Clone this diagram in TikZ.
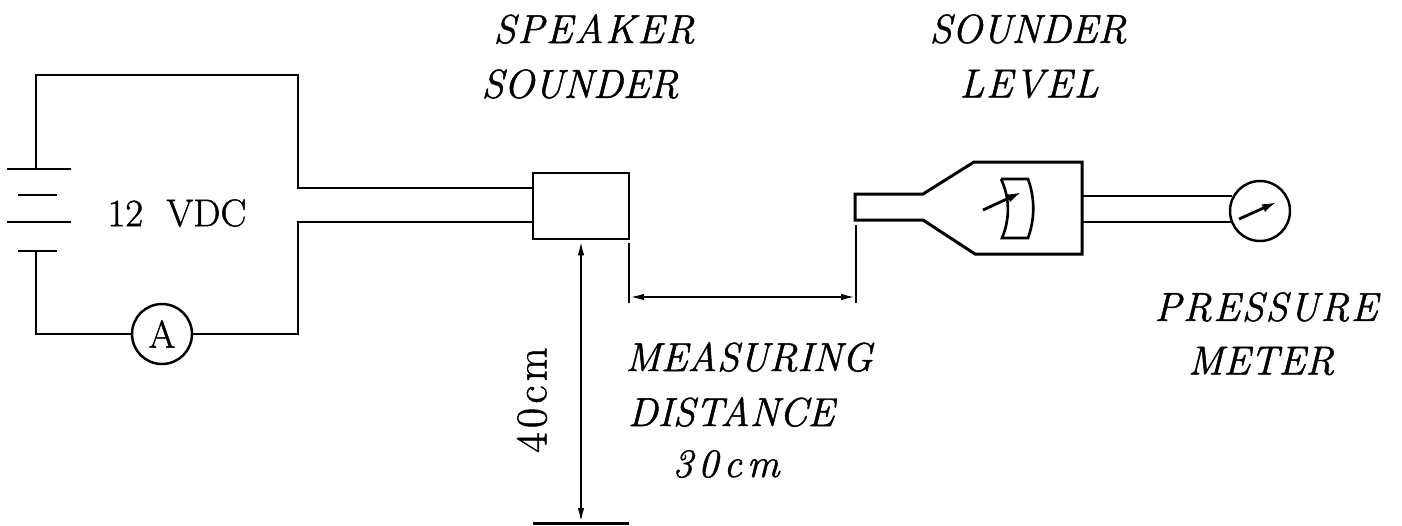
\documentclass[tikz,border=0pt]{standalone}
\usepackage{fontspec}
\usetikzlibrary{arrows.meta, positioning}
\newfontfamily\capfont[FakeBold=1.2]{Latin Modern Roman}
\newfontfamily\widefont[LetterSpace=4,FakeBold=1.2]{Latin Modern Roman}
\newfontfamily\numfont[LetterSpace=13,FakeBold=1.2]{Latin Modern Roman}
\newfontfamily\plainfont[FakeBold=1.2]{Latin Modern Roman}
\newfontfamily\sidefont[LetterSpace=10,FakeBold=1.2]{Latin Modern Roman}
\tikzset{
  wire/.style={line width=1.5pt},
  heavy/.style={line width=1.7pt},
  device/.style={draw, line width=1.5pt, inner sep=0pt},
  dial/.style={draw, circle, line width=1.4pt, minimum size=1.2cm, inner sep=0pt},
  pointer/.style={line width=1.6pt, -{Latex[length=0.3cm,width=0.17cm]}},
  dimline/.style={line width=1.3pt, {Latex[length=0.3cm,width=0.13cm]}-{Latex[length=0.3cm,width=0.13cm]}},
  caption/.style={inner sep=0pt, font=\capfont\fontsize{23}{27}\selectfont\itshape},
  widecaption/.style={inner sep=0pt, font=\widefont\fontsize{23}{27}\selectfont\itshape},
  numcaption/.style={inner sep=0pt, font=\numfont\fontsize{23}{27}\selectfont\itshape},
  upright/.style={inner sep=0pt, font=\plainfont\fontsize{22}{26}\selectfont},
  sideways/.style={inner sep=0pt, rotate=90, font=\sidefont\fontsize{25}{30}\selectfont}
}
\begin{document}
\begin{tikzpicture}[x=0.02cm, y=-0.02cm]
  \useasboundingbox (0,0) rectangle (1402,525);

  \coordinate (plus) at (36,169);
  \coordinate (minus) at (36,251);
  \coordinate (topleft) at (36,75);
  \coordinate (topright) at (298,75);
  \coordinate (topbend) at (298,188);
  \coordinate (botleft) at (36,334);
  \coordinate (botright) at (298,334);
  \coordinate (botbend) at (298,222);
  \coordinate (spkupper) at (533,188);
  \coordinate (spklower) at (533,222);

  \node[device, minimum width=1.92cm, minimum height=1.32cm] (speaker) at (581,206) {};
  \node[dial, upright] (ammeter) at (162,334) {A};
  \node[dial] (gauge) at (1260,211) {};
  \coordinate (gaugeupper) at (1232,196);
  \coordinate (gaugelower) at (1232,222);

  \draw[wire] (7,169) -- (71,169);
  \draw[wire] (18,195) -- (57,195);
  \draw[wire] (7,222) -- (71,222);
  \draw[wire] (18,251) -- (57,251);

  \draw[wire] (plus) -- (topleft) -- (topright) -- (topbend) -- (spkupper);
  \draw[wire] (minus) -- (botleft) -- (ammeter.west);
  \draw[wire] (ammeter.east) -- (botright) -- (botbend) -- (spklower);

  \coordinate (mtrtop) at (1082,196);
  \coordinate (mtrbot) at (1082,222);
  \draw[heavy] (855,194) -- (923,194) -- (974,162) -- (1082,162) -- (1082,254)
    -- (975,254) -- (923,220) -- (855,220) -- cycle;
  \draw[wire] (mtrtop) -- (gaugeupper);
  \draw[wire] (mtrbot) -- (gaugelower);

  \draw[wire] (1001,179) -- (1028,179) .. controls (1035,198) and (1035,219) .. (1028,238)
    -- (1002,238) .. controls (1010,219) and (1010,198) .. (1001,179);
  \draw[pointer] (983,210) -- (1022,192);
  \draw[pointer] (1239,219) -- (1277,202);

  \coordinate (extleftA) at (629,243);
  \coordinate (extleftB) at (629,303);
  \coordinate (extrightA) at (856,225);
  \coordinate (extrightB) at (856,303);
  \coordinate (dimleft) at (629,297);
  \coordinate (dimright) at (856,297);
  \coordinate (floor) at (581,523);
  \draw[wire] (extleftA) -- (extleftB);
  \draw[wire] (extrightA) -- (extrightB);
  \draw[dimline] (dimleft) -- (dimright);
  \draw[dimline] (speaker.south) -- (floor);
  \draw[heavy] (533,523) -- (629,523);

  \node[widecaption] (spktitle) at (594,29) {SPEAKER};
  \node[caption] (spktitleb) at (580,84) {SOUNDER};
  \node[caption] (lvltitle) at (1028,29) {SOUNDER};
  \node[widecaption] (lvltitleb) at (1029,84) {LEVEL};
  \node[widecaption] (prstitle) at (1266,307) {PRESSURE};
  \node[caption] (prstitleb) at (1261,361) {METER};
  \node[caption] (meastitle) at (749,357) {MEASURING};
  \node[caption] (meastitleb) at (731,412) {DISTANCE};
  \node[numcaption] (meastitlec) at (726,464) {30cm};
  \node[upright] (volts) at (177,213) {12\ \ VDC};
  \node[sideways] (height) at (532,400) {40cm};
\end{tikzpicture}
\end{document}
